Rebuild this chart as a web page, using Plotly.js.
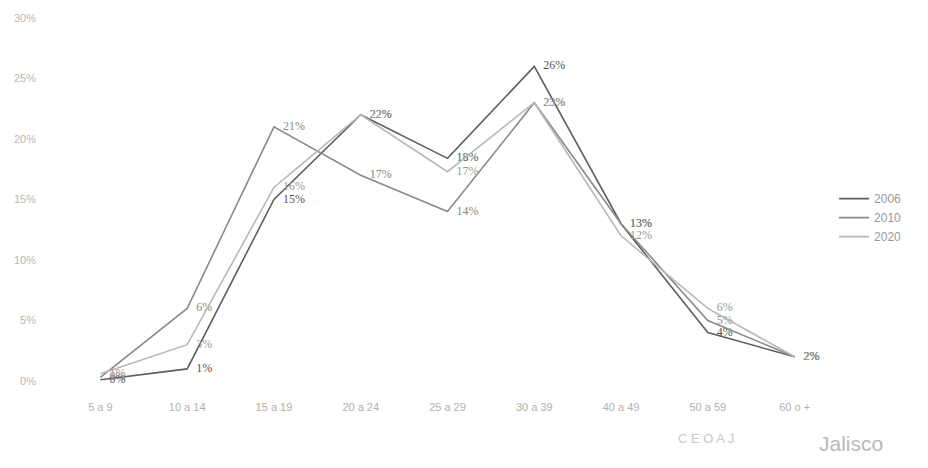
<!DOCTYPE html>
<html>
<head>
<meta charset="utf-8">
<script src="https://cdn.plot.ly/plotly-3.0.1.min.js"></script>
<style>html,body{margin:0;padding:0;background:#fff;}#chart{width:928px;height:468px;}</style>
</head>
<body>
<div id="chart"></div>
<script>
const categories = ["5 a 9", "10 a 14", "15 a 19", "20 a 24", "25 a 29", "30 a 39", "40 a 49", "50 a 59", "60 o +"];
const seriesNames = ["2006", "2010", "2020"];
const values2006 = [0.1, 1, 15, 22, 18.4, 26, 13, 4, 2];
const values2010 = [0.3, 6, 21, 17, 14, 23, 13, 5, 2];
const values2020 = [0.6, 3, 16, 22, 17.3, 23, 12, 6, 2];
const yTickValues = [0, 5, 10, 15, 20, 25, 30];
const yTickLabels = ["0%", "5%", "10%", "15%", "20%", "25%", "30%"];

const colors = ["#5e5e5e", "#8a8a8a", "#b8b8b8"];
const labelColors = ["#555", "#888", "#999"];
const allValues = [values2006, values2010, values2020];

const traces = allValues.map((vals, i) => ({
  type: "scatter",
  mode: "lines+text",
  name: seriesNames[i],
  x: categories,
  y: vals,
  text: vals.map(v => "   " + Math.round(v) + "%"),
  textposition: "middle right",
  textfont: {family: "Liberation Serif, serif", size: 12, color: labelColors[i]},
  line: {color: colors[i], width: 1.6},
  cliponaxis: false,
  hoverinfo: "skip"
}));

const layout = {
  width: 928,
  height: 468,
  margin: {l: 57, r: 90, t: 18, b: 87},
  paper_bgcolor: "#fff",
  plot_bgcolor: "#fff",
  showlegend: true,
  legend: {
    x: 0.995, xanchor: "left", y: 0.45, yanchor: "middle",
    font: {family: "Liberation Sans, sans-serif", size: 12, color: "#999"},
    tracegroupgap: 0, itemwidth: 30, bgcolor: "rgba(0,0,0,0)"
  },
  xaxis: {
    type: "category",
    range: [-0.5, 8.5],
    showgrid: false, zeroline: false, showline: false,
    ticks: "",
    ticklabelstandoff: 18,
    tickfont: {family: "Liberation Sans, sans-serif", size: 11, color: "#b0b0b0"},
    fixedrange: true
  },
  yaxis: {
    range: [0, 30],
    tickvals: yTickValues,
    ticktext: yTickLabels,
    showgrid: false, zeroline: false, showline: false,
    ticks: "",
    ticklabelstandoff: 20,
    tickfont: {family: "Liberation Sans, sans-serif", size: 11, color: "#b8b8b8"},
    fixedrange: true
  },
  annotations: [
    {text: "C E O A J", xref: "paper", yref: "paper", x: 0.87, y: -0.185, showarrow: false,
     font: {family: "Liberation Sans, sans-serif", size: 13, color: "#c8c8c8"}},
    {text: "Jalisco", xref: "paper", yref: "paper", x: 1.06, y: -0.21, showarrow: false,
     font: {family: "Liberation Sans, sans-serif", size: 21, color: "#b8b8b8"}}
  ]
};

Plotly.newPlot("chart", traces, layout, {displayModeBar: false, staticPlot: true});
</script>
</body>
</html>
